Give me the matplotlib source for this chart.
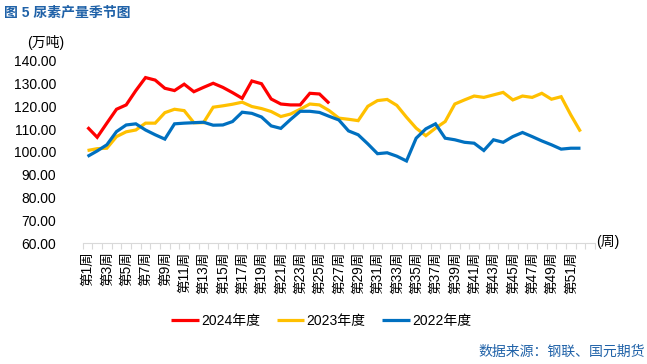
import matplotlib.pyplot as plt
import numpy as np
from matplotlib.ticker import FixedLocator, NullFormatter

plt.rcParams['font.family'] = ['Liberation Sans', 'Noto Sans CJK SC']

# week categories on the x axis (53 slots, every other one labelled)
weeks = ['第%d周' % i for i in range(1, 54)]

y2024 = [110.8, 106.4, 112.6, 118.7, 120.6, 126.9, 132.6, 131.5, 127.9, 126.9,
         129.7, 126.4, 128.3, 130.1, 128.3, 126.0, 123.5, 131.1, 129.9, 123.2,
         121.0, 120.6, 120.6, 125.7, 125.4, 121.3]

y2023 = [100.6, 101.4, 101.6, 106.7, 108.8, 109.6, 112.6, 112.6, 117.2, 118.7,
         118.1, 112.8, 112.8, 119.6, 120.2, 120.9, 121.8, 119.9, 119.0, 117.7,
         115.5, 116.6, 118.7, 121.0, 120.6, 118.1, 114.8, 114.3, 113.7, 120.0,
         122.5, 123.0, 120.4, 115.2, 110.4, 107.1, 110.4, 113.3, 121.0, 122.8,
         124.5, 123.9, 125.0, 126.1, 122.8, 124.5, 123.9, 125.7, 123.1, 124.2,
         116.2, 108.9]

y2022 = [98.0, 100.4, 103.1, 108.9, 111.8, 112.3, 109.6, 107.5, 105.6, 112.3,
         112.6, 112.8, 113.0, 111.7, 111.8, 113.3, 117.4, 116.9, 115.3, 111.4,
         110.3, 114.2, 117.8, 117.8, 117.3, 115.6, 114.0, 109.2, 107.5, 103.5,
         99.2, 99.6, 98.1, 96.0, 106.0, 110.1, 112.3, 106.0, 105.3, 104.2,
         103.8, 100.6, 105.3, 104.2, 106.7, 108.5, 106.7, 104.8, 103.1, 101.2,
         101.6, 101.6]

series = [('2024年度', y2024, '#FF0000'),
          ('2023年度', y2023, '#FFC000'),
          ('2022年度', y2022, '#0070C0')]

fig = plt.figure(figsize=(6.47, 3.64), dpi=100)
ax = fig.add_axes([0.1278, 0.3324, 0.7918, 0.5008])

for name, vals, col in series:
    ax.plot(np.arange(len(vals)), vals, color=col, lw=2.3, label=name,
            solid_joinstyle='miter', solid_capstyle='butt')

ax.set_xlim(-0.5, len(weeks) - 0.5)
ax.set_ylim(60, 140)
ax.set_yticks(np.arange(60, 141, 10))
ax.set_yticklabels(['%.2f' % v for v in np.arange(60, 141, 10)], fontsize=10)
ax.tick_params(axis='y', length=0, pad=19)

major = list(range(0, 51, 2))
ax.set_xticks(major)
ax.set_xticklabels([weeks[i] for i in major], rotation=90, fontsize=9.8,
                   va='top', ha='center')
ax.tick_params(axis='x', which='major', length=0, pad=6)
ax.xaxis.set_minor_locator(FixedLocator(np.arange(-0.5, len(weeks), 1)))
ax.xaxis.set_minor_formatter(NullFormatter())
ax.tick_params(axis='x', which='minor', length=4, color='#D9D9D9', width=0.8)

for s in ['top', 'right', 'left']:
    ax.spines[s].set_visible(False)
ax.spines['bottom'].set_color('#D9D9D9')

fig.text(596 / 647, 1 - 242 / 364, '(周)', fontsize=10, va='center', ha='left')
fig.text(46 / 647, 1 - 42 / 364, '(万吨)', fontsize=10, va='center', ha='center')
fig.text(4 / 647, 1 - 13 / 364, '图 5 尿素产量季节图', fontsize=10,
         fontweight='bold', color='#2062A8', va='center', ha='left')
fig.text(645 / 647, 1 - 352 / 364, '数据来源：钢联、国元期货', fontsize=10,
         color='#2062A8', va='center', ha='right')

fig.legend(loc='center', bbox_to_anchor=(321 / 647, 1 - 321 / 364), ncol=3,
           frameon=False, fontsize=10, handlelength=2.0, handletextpad=0.15,
           columnspacing=1.2)

fig.savefig('out.png', dpi=100)
